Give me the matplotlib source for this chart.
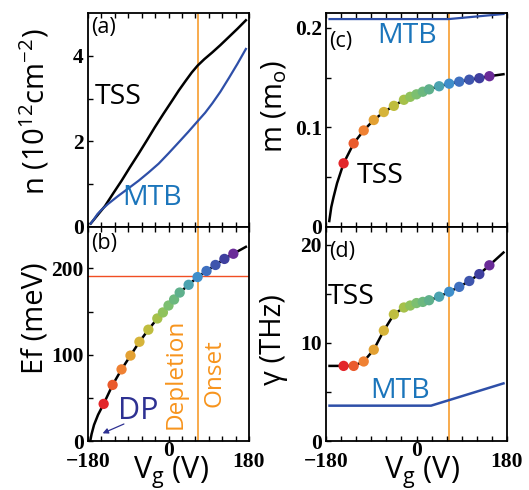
import numpy as np
import matplotlib
matplotlib.use("Agg")
import matplotlib.pyplot as plt
from matplotlib.transforms import ScaledTranslation

# -------------------------
# Data
# -------------------------
vg_dots = [-145, -125, -105, -85, -65, -45, -25, -12.5, 0, 12.5, 25, 45, 65, 85, 105, 125, 145]
ef_dots = [43, 65, 83, 99, 115, 129, 142, 149, 157, 164, 172, 181, 190, 197, 204, 211, 217]
m_dots = [0.064, 0.084, 0.097, 0.1075, 0.1155, 0.1217, 0.1278, 0.1308, 0.1333,
          0.1359, 0.1383, 0.1414, 0.144, 0.146, 0.148, 0.1495, 0.1515]
gamma_dots = [7.65, 7.65, 8.1, 9.3, 11.25, 12.9, 13.6, 13.8, 14.05, 14.17, 14.34,
              14.7, 15.2, 15.7, 16.3, 17.0, 17.9]

# TSS line ends beyond the dots
ef_head_vg = [-175, -172, -166.5, -157.5]
ef_head = [0, 8, 18.7, 30.4]
ef_tail_vg = [173]
ef_tail = [225]

m_head_vg = [-173.5, -169.5, -165, -158]
m_head = [0.006, 0.020, 0.030, 0.044]
m_tail_vg = [173]
m_tail = [0.1535]

gamma_head_vg = [-173]
gamma_head = [7.65]
gamma_tail_vg = [173]
gamma_tail = [19.2]

# panel (a): carrier density
n_tss_vg = [-174, -160, -142, -124, -105, -86, -67, -48, -30, -11, 8, 23,
            38, 52, 65, 80, 98, 116, 135, 154, 173]
n_tss = [0.08, 0.26, 0.49, 0.78, 1.08, 1.40, 1.71, 2.03, 2.34, 2.65, 2.95, 3.19,
         3.41, 3.61, 3.77, 3.92, 4.08, 4.25, 4.44, 4.63, 4.83]
n_mtb_vg = [-174, -166, -159, -150, -135, -112, -90, -67, -45, -22, 0, 23,
            44, 65, 82, 98, 116, 135, 154, 173]
n_mtb = [0.08, 0.19, 0.30, 0.40, 0.54, 0.73, 0.90, 1.08, 1.27, 1.48, 1.72, 1.98,
         2.22, 2.47, 2.67, 2.89, 3.16, 3.48, 3.81, 4.16]

# MTB mass and scattering rate
m_mtb_vg = [-173, 64, 173]
m_mtb = [0.2089, 0.2089, 0.214]
gamma_mtb_vg = [-173, 29, 173]
gamma_mtb = [3.6, 3.6, 5.87]

v_onset = 65
ef_onset = 191

dot_colors = ["#e3262a", "#ea5a2c", "#ef8133", "#e3a133", "#d6b43a", "#bfbd3e",
              "#a6c14a", "#8fc25c", "#7cbf70", "#6cb87e", "#5fb08c", "#4ba3b0",
              "#3f8fcb", "#3f70c0", "#3e55ad", "#3f3f9f", "#6a2b98"]

ORANGE = "#f7941d"
BLUE_LINE = "#2e4fa8"
BLUE_TXT = "#1b75bb"
DP_BLUE = "#2e3192"

plt.rcParams["font.family"] = ["Open Sans", "DejaVu Sans"]
plt.rcParams["mathtext.default"] = "regular"

W, H = 529, 490
fig = plt.figure(figsize=(W / 100, H / 100), dpi=100)


def px_axes(x0, y0, x1, y1):
    return fig.add_axes([x0 / W, 1 - y1 / H, (x1 - x0) / W, (y1 - y0) / H])


ax_a = px_axes(88, 13, 249, 227)
ax_b = px_axes(88, 227, 249, 441)
ax_c = px_axes(326, 13, 507, 227)
ax_d = px_axes(326, 227, 507, 441)

tick_font = dict(family="Liberation Serif", weight="bold", size=15.5)


def style(ax, ymaj, ymin, ylim, ylabels, xlabels):
    ax.set_xlim(-180, 180)
    ax.set_ylim(*ylim)
    ax.set_xticks([-180, 0, 180])
    ax.set_xticks(np.arange(-180, 181, 30), minor=True)
    ax.set_yticks(ymaj)
    ax.set_yticks(ymin, minor=True)
    ax.tick_params(which="both", direction="in", top=True, right=False,
                   length=3.5, width=1.0)
    ax.tick_params(axis="y", pad=3)
    ax.tick_params(axis="x", pad=8)
    for s in ax.spines.values():
        s.set_linewidth(1.3)
    if xlabels:
        ax.set_xticklabels(["\u2212180", "0", "180"], fontdict=tick_font)
        # the middle "0" sits higher in the reference
        lbl = ax.get_xticklabels()[1]
        lbl.set_transform(lbl.get_transform()
                          + ScaledTranslation(0, 0.11, fig.dpi_scale_trans))
    else:
        ax.set_xticklabels([])
    ax.set_yticklabels(ylabels, fontdict=tick_font)


style(ax_a, [0, 2, 4], [1, 3], (0, 5.0), ["0", "2", "4"], False)
style(ax_b, [0, 100, 200], [50, 150], (0, 248), ["0", "100", "200"], True)
style(ax_c, [0, 0.1, 0.2], [0.05, 0.15], (0, 0.215), ["0", "0.1", "0.2"], False)
style(ax_d, [0, 10, 20], [5, 15], (0, 21.8), ["0", "10", "20"], True)

for ax in (ax_a, ax_b, ax_c, ax_d):
    ax.axvline(v_onset, color=ORANGE, lw=1.1, zorder=1)

big = 20.5

# (a)
ax_a.plot(n_tss_vg, n_tss, color="black", lw=1.8)
ax_a.plot(n_mtb_vg, n_mtb, color=BLUE_LINE, lw=1.6)
ax_a.text(-172, 4.66, "(a)", fontsize=15.5, va="center")
ax_a.text(-165, 3.04, "TSS", fontsize=big, va="center")
ax_a.text(-103, 0.68, "MTB", fontsize=big, va="center", color=BLUE_TXT)

# (b)
ax_b.axhline(ef_onset, color="#f04e23", lw=1.0, zorder=1)
ax_b.plot(ef_head_vg + vg_dots + ef_tail_vg, ef_head + ef_dots + ef_tail,
          color="black", lw=1.8, zorder=2)
ax_b.scatter(vg_dots, ef_dots, c=dot_colors, s=55, zorder=3, edgecolors="none")
ax_b.text(-172, 229, "(b)", fontsize=15.5, va="center")
ax_b.text(-114, 35, "DP", fontsize=22, va="center", color=DP_BLUE)
ax_b.annotate("", xy=(-153, 7.6), xytext=(-94, 21),
              arrowprops=dict(arrowstyle="-|>", color=DP_BLUE, lw=0.9,
                              mutation_scale=8))
ax_b.text(17, 78, "Depletion", fontsize=17.5, rotation=90, ha="center",
          va="center", color=ORANGE)
ax_b.text(102, 79, "Onset", fontsize=17.5, rotation=90, ha="center",
          va="center", color=ORANGE)

# (c)
ax_c.plot(m_mtb_vg, m_mtb, color=BLUE_LINE, lw=1.6)
ax_c.plot(m_head_vg + vg_dots + m_tail_vg, m_head + m_dots + m_tail,
          color="black", lw=1.8, zorder=2)
ax_c.scatter(vg_dots, m_dots, c=dot_colors, s=55, zorder=3, edgecolors="none")
ax_c.text(-173, 0.186, "(c)", fontsize=15.5, va="center")
ax_c.text(-78, 0.192, "MTB", fontsize=big, va="center", color=BLUE_TXT)
ax_c.text(-119, 0.051, "TSS", fontsize=big, va="center")

# (d)
ax_d.plot(gamma_mtb_vg, gamma_mtb, color=BLUE_LINE, lw=1.8)
ax_d.plot(gamma_head_vg + vg_dots + gamma_tail_vg,
          gamma_head + gamma_dots + gamma_tail, color="black", lw=1.8, zorder=2)
ax_d.scatter(vg_dots, gamma_dots, c=dot_colors, s=55, zorder=3, edgecolors="none")
ax_d.text(-173, 19.35, "(d)", fontsize=15.5, va="center")
ax_d.text(-177, 14.7, "TSS", fontsize=big, va="center")
ax_d.text(-91, 5.07, "MTB", fontsize=big, va="center", color=BLUE_TXT)

# axis labels
lab = dict(fontsize=21, rotation=90, ha="center", va="center")
fig.text(35 / W, 1 - 112 / H, "n (10$^{12}$cm$^{-2}$)", **lab)
fig.text(35 / W, 1 - 318 / H, "Ef (meV)", **lab)
fig.text(274 / W, 1 - 107 / H, "m (m$_o$)", **lab)
fig.text(274 / W, 1 - 340 / H, "\u03b3 (THz)", **lab)
fig.text(171 / W, 1 - 473 / H, "V$_g$ (V)", fontsize=22, ha="center", va="center")
fig.text(422 / W, 1 - 473 / H, "V$_g$ (V)", fontsize=22, ha="center", va="center")

fig.savefig("out.png", dpi=100)
